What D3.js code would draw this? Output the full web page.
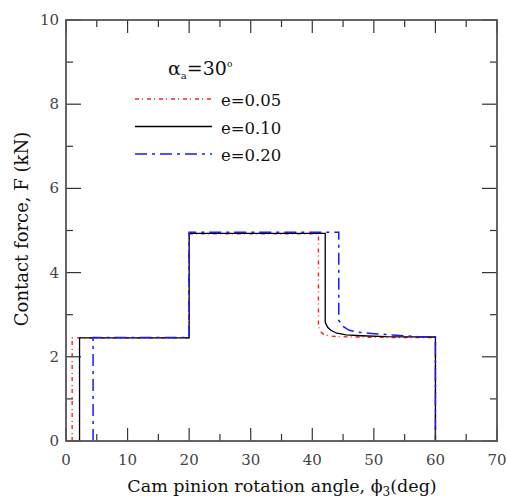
<!DOCTYPE html>
<html>
<head>
<meta charset="utf-8">
<script src="https://cdn.jsdelivr.net/npm/d3@7"></script>
<style>
  body { margin: 0; background: #fff; }
</style>
</head>
<body>
<div id="chart"></div>
<script>
// series
var x005 = [1.0, 1.0, 20, 20, 41.0, 41.0, 41.3, 41.8, 42.6, 44, 47, 52, 60, 60];
var y005 = [0, 2.45, 2.45, 4.92, 4.92, 2.72, 2.60, 2.54, 2.50, 2.48, 2.47, 2.46, 2.46, 0];

var x010 = [2.2, 2.2, 20, 20, 42.1, 42.1, 42.5, 43, 44, 45.5, 48, 52, 60, 60];
var y010 = [0, 2.45, 2.45, 4.93, 4.93, 2.82, 2.70, 2.63, 2.56, 2.52, 2.50, 2.48, 2.47, 0];

var x020 = [4.4, 4.4, 20, 20, 44.3, 44.3, 45, 46, 47.7, 50, 53, 57, 60, 60];
var y020 = [0, 2.46, 2.46, 4.96, 4.96, 2.87, 2.72, 2.63, 2.58, 2.55, 2.52, 2.48, 2.47, 0];

var xTicks = [0, 10, 20, 30, 40, 50, 60, 70];
var yTicks = [0, 2, 4, 6, 8, 10];
var legendLabels = ["e=0.05", "e=0.10", "e=0.20"];

var serif = "'DejaVu Serif', serif";
var width = 507, height = 501;
var pLeft = 66, pRight = 497, pTop = 20, pBottom = 441;

var svg = d3.select("#chart").append("svg")
    .attr("width", width)
    .attr("height", height)
    .style("font-family", serif);

var x = d3.scaleLinear().domain([0, 70]).range([pLeft, pRight]);
var y = d3.scaleLinear().domain([0, 10]).range([pBottom, pTop]);

var series = [
    {xs: x005, ys: y005, color: "#ff2020", dash: "4,3,1,4", w: 1.4},
    {xs: x010, ys: y010, color: "#000000", dash: null, w: 1.3},
    {xs: x020, ys: y020, color: "#1a1aff", dash: "12,5,3,5", w: 1.5}
];

var line = d3.line()
    .x(d => x(d[0]))
    .y(d => y(d[1]));

// curves
series.forEach(function(s) {
    var pts = s.xs.map((v, i) => [v, s.ys[i]]);
    svg.append("path")
        .attr("d", line(pts))
        .attr("fill", "none")
        .attr("stroke", s.color)
        .attr("stroke-width", s.w)
        .attr("stroke-dasharray", s.dash);
});

// ticks, inward on all four sides
var tickColor = "#333";
var xMinor = d3.range(0, 71, 5);
var yMinor = d3.range(0, 11, 1);

xMinor.forEach(function(v) {
    var major = v % 10 === 0;
    var len = major ? 13 : 7;
    svg.append("line").attr("x1", x(v)).attr("x2", x(v))
        .attr("y1", pBottom).attr("y2", pBottom - len)
        .attr("stroke", tickColor).attr("stroke-width", 1.2);
    svg.append("line").attr("x1", x(v)).attr("x2", x(v))
        .attr("y1", pTop).attr("y2", pTop + len)
        .attr("stroke", tickColor).attr("stroke-width", 1.2);
});

yMinor.forEach(function(v) {
    var major = v % 2 === 0;
    var len = major ? 15 : 7;
    svg.append("line").attr("x1", pLeft).attr("x2", pLeft + len)
        .attr("y1", y(v)).attr("y2", y(v))
        .attr("stroke", tickColor).attr("stroke-width", 1.2);
    svg.append("line").attr("x1", pRight).attr("x2", pRight - len)
        .attr("y1", y(v)).attr("y2", y(v))
        .attr("stroke", tickColor).attr("stroke-width", 1.2);
});

// frame
svg.append("rect")
    .attr("x", pLeft).attr("y", pTop)
    .attr("width", pRight - pLeft).attr("height", pBottom - pTop)
    .attr("fill", "none")
    .attr("stroke", "#555")
    .attr("stroke-width", 1.8);

// tick labels
svg.selectAll(".xl").data(xTicks).enter().append("text")
    .attr("x", d => x(d))
    .attr("y", pBottom + 24)
    .attr("text-anchor", "middle")
    .attr("font-family", serif)
    .attr("font-size", "15px")
    .attr("fill", "#444")
    .text(d => d);

svg.selectAll(".yl").data(yTicks).enter().append("text")
    .attr("x", pLeft - 7)
    .attr("y", d => y(d) + 5)
    .attr("text-anchor", "end")
    .attr("font-family", serif)
    .attr("font-size", "15px")
    .attr("fill", "#444")
    .text(d => d);

// axis titles
var xt = svg.append("text")
    .attr("x", 282)
    .attr("y", 492)
    .attr("text-anchor", "middle")
    .attr("font-family", serif)
    .attr("font-size", "17.5px")
    .attr("fill", "#111");
xt.append("tspan").text("Cam pinion rotation angle, \u03D5");
xt.append("tspan").attr("font-size", "12px").attr("dy", 4).text("3");
xt.append("tspan").attr("dy", -4).text("(deg)");

svg.append("text")
    .attr("transform", "translate(28," + 229 + ") rotate(-90)")
    .attr("text-anchor", "middle")
    .attr("font-family", serif)
    .attr("font-size", "18px")
    .attr("fill", "#111")
    .text("Contact force, F (kN)");

// legend
var at = svg.append("text")
    .attr("x", 168)
    .attr("y", 75)
    .attr("font-family", serif)
    .attr("font-size", "19px")
    .attr("fill", "#111");
at.append("tspan").text("\u03B1");
at.append("tspan").attr("font-size", "10px").attr("dy", 4).text("a");
at.append("tspan").attr("dy", -4).text("=30");
at.append("tspan").attr("font-size", "9px").attr("dy", -8).text("o");

series.forEach(function(s, i) {
    var ly = 99 + i * 27.5;
    svg.append("line")
        .attr("x1", 135).attr("x2", 212)
        .attr("y1", ly).attr("y2", ly)
        .attr("stroke", s.color)
        .attr("stroke-width", s.w)
        .attr("stroke-dasharray", s.dash);
    svg.append("text")
        .attr("x", 221)
        .attr("y", ly + 7)
        .attr("font-family", serif)
        .attr("font-size", "16.5px")
        .attr("fill", "#111")
        .text(legendLabels[i]);
});
</script>
</body>
</html>
